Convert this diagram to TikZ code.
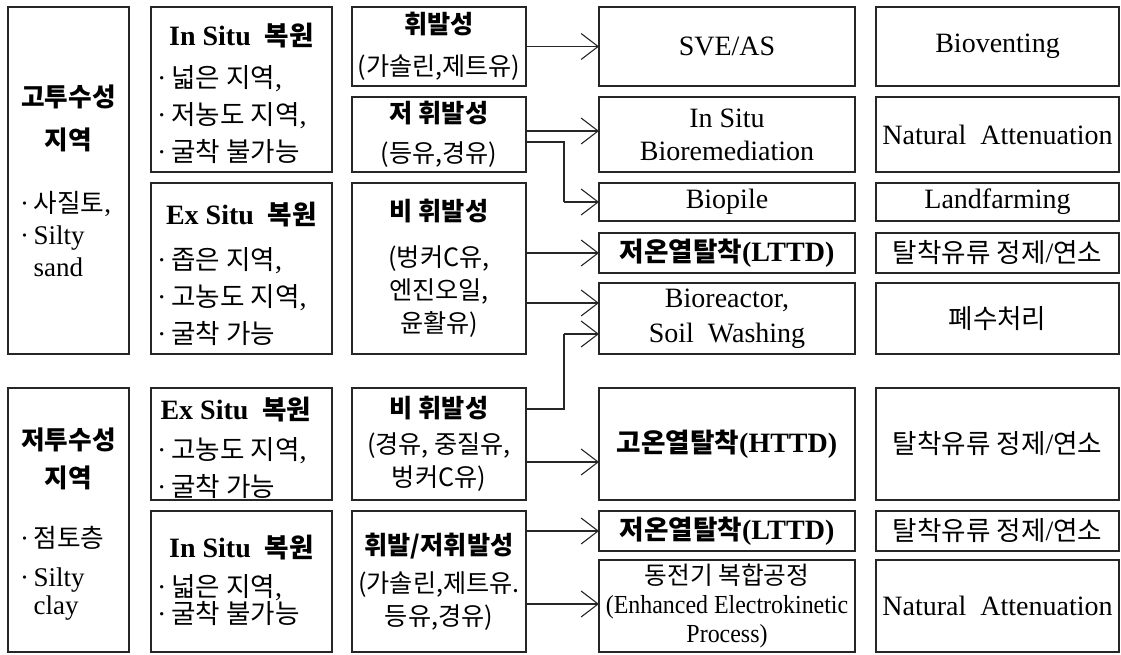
\documentclass[tikz,border=0pt]{standalone}
\usepackage{fontspec}
\setmainfont{Liberation Serif}
\newfontfamily\kr{Noto Sans CJK KR}[Scale=0.95]
\newfontfamily\cond{Liberation Serif}[FakeStretch=0.92]
\usetikzlibrary{arrows.meta}
\newcommand\K[1]{{\kr #1}}
\newcommand\KB[1]{{\kr\bfseries #1}}
\begin{document}
\begin{tikzpicture}[x=1pt,y=-1pt,
  box/.style={draw=black!85, line width=1.2pt, inner sep=0pt, outer sep=0pt, anchor=north west, align=center},
  txt/.style={inner sep=0pt, align=center},
  ltxt/.style={inner sep=0pt, align=left, anchor=west},
  mid/.style={font=\fontsize{26.5}{33}\selectfont},
  arr/.style={line width=1.1pt, black!85, -{Straight Barb[length=17pt,width=26pt,line width=1.1pt]}},
  font=\fontsize{28}{34}\selectfont]
\useasboundingbox (0,0) rectangle (1121,655);
% column 1
\node[box, minimum width=121pt, minimum height=347pt] (A1) at (8,7) {};
\node[box, minimum width=121pt, minimum height=264pt] (A2) at (8,388) {};
\node[txt, font=\fontsize{27}{43}\selectfont] (A1h) at (68.5,118.5) {\KB{고투수성}\\\KB{지역}};
\node[ltxt, font=\fontsize{27}{32}\selectfont] (A1b) at (20,234) {·\,\K{사질토},\\·\,Silty\\\phantom{·\,}sand};
\node[txt, font=\fontsize{27}{38}\selectfont] (A2h) at (68.5,459) {\KB{저투수성}\\\KB{지역}};
\node[ltxt, font=\fontsize{27}{32}\selectfont] (A2b) at (20,538) {·\,\K{점토층}};
\node[ltxt, font=\fontsize{27}{28}\selectfont] (A2c) at (20,594) {·\,Silty\\\phantom{·\,}clay};
% column 2
\node[box, minimum width=181pt, minimum height=165pt] (B1) at (151,7) {};
\node[box, minimum width=181pt, minimum height=171pt] (B2) at (151,183) {};
\node[box, minimum width=181pt, minimum height=112pt] (B3) at (151,388) {};
\node[box, minimum width=181pt, minimum height=141pt] (B4) at (151,511) {};
\node[txt, font=\fontsize{28}{30}\bfseries\selectfont] (B1h) at (241.5,36) {In Situ\ \ \KB{복원}};
\node[ltxt, font=\fontsize{28}{37}\selectfont] (B1b) at (157,115) {·\,\K{넓은 지역},\\·\,\K{저농도 지역},\\·\,\K{굴착 불가능}};
\node[txt, font=\fontsize{28}{30}\bfseries\selectfont] (B2h) at (241.5,215) {Ex Situ\ \ \KB{복원}};
\node[ltxt, font=\fontsize{28}{37}\selectfont] (B2b) at (157,297) {·\,\K{좁은 지역},\\·\,\K{고농도 지역},\\·\,\K{굴착 가능}};
\node[txt, font=\fontsize{28}{30}\bfseries\selectfont] (B3h) at (236,410) {Ex Situ\ \ \KB{복원}};
\node[ltxt, font=\fontsize{28}{37}\selectfont] (B3b) at (157,468) {·\,\K{고농도 지역},\\·\,\K{굴착 가능}};
\node[txt, font=\fontsize{28}{30}\bfseries\selectfont] (B4h) at (241.5,548) {In Situ\ \ \KB{복원}};
\node[ltxt, font=\fontsize{28}{25}\selectfont] (B4b) at (157,600) {·\,\K{넓은 지역},\\·\,\K{굴착 불가능}};
% column 3
\node[box, mid, minimum width=174pt, minimum height=79pt] (C1) at (352,7) {\KB{휘발성}\\[9pt]\K{(가솔린,제트유)}};
\node[box, mid, minimum width=174pt, minimum height=75pt] (C2) at (352,97) {\KB{저 휘발성}\\[7pt]\K{(등유,경유)}};
\node[box, mid, minimum width=174pt, minimum height=171pt] (C3) at (352,183) {\KB{비 휘발성}\\[13pt]\K{(벙커C유,}\\\K{엔진오일,}\\\K{윤활유)}};
\node[box, mid, minimum width=174pt, minimum height=112pt] (C4) at (352,388) {\KB{비 휘발성}\\[3pt]\K{(경유, 중질유,}\\\K{벙커C유)}};
\node[box, mid, minimum width=174pt, minimum height=141pt] (C5) at (352,511) {\KB{휘발/저휘발성}\\[5pt]\K{(가솔린,제트유.}\\\K{등유,경유)}};
% column 4
\node[box, minimum width=256pt, minimum height=79pt] (D1) at (599,7) {SVE/AS};
\node[box, minimum width=256pt, minimum height=75pt] (D2) at (599,97) {In Situ\\[-1pt]Bioremediation};
\node[box, minimum width=256pt, minimum height=38pt] (D3) at (599,183) {Biopile};
\node[box, minimum width=256pt, minimum height=40pt] (D4) at (599,233) {\bfseries\KB{저온열탈착}(LTTD)};
\node[box, minimum width=256pt, minimum height=71pt] (D5) at (599,283) {Bioreactor,\\[1pt]Soil\ \ Washing};
\node[box, minimum width=256pt, minimum height=112pt] (D6) at (599,388) {\bfseries\KB{고온열탈착}(HTTD)};
\node[box, minimum width=256pt, minimum height=40pt] (D7) at (599,511) {\bfseries\KB{저온열탈착}(LTTD)};
\node[box, minimum width=256pt, minimum height=92pt, font=\fontsize{26}{29}\selectfont] (D8) at (599,560) {\K{동전기\ 복합공정}\\{\cond (Enhanced Electrokinetic}\\{\cond Process)}};
% column 5
\node[box, minimum width=243pt, minimum height=79pt] (E1) at (876,7) {Bioventing};
\node[box, minimum width=243pt, minimum height=75pt] (E2) at (876,97) {Natural\ \ Attenuation};
\node[box, minimum width=243pt, minimum height=38pt] (E3) at (876,183) {Landfarming};
\node[box, minimum width=243pt, minimum height=40pt] (E4) at (876,233) {\K{탈착유류 정제}/\K{연소}};
\node[box, minimum width=243pt, minimum height=71pt] (E5) at (876,283) {\K{폐수처리}};
\node[box, minimum width=243pt, minimum height=112pt] (E6) at (876,388) {\K{탈착유류 정제}/\K{연소}};
\node[box, minimum width=243pt, minimum height=40pt] (E7) at (876,511) {\K{탈착유류 정제}/\K{연소}};
\node[box, minimum width=243pt, minimum height=92pt] (E8) at (876,560) {Natural\ \ Attenuation};
% connectors
\coordinate (j1) at (564,0);
\draw[arr] (C1.east) -- (D1.west);
\draw[arr] (C2.east |- 0,131) -- (D2.west |- 0,131);
\draw[arr, -] (C2.east |- 0,142) -| (j1 |- D3.west);
\draw[arr] (j1 |- D3.west) -- (D3.west);
\draw[arr] (C3.east |- D4.west) -- (D4.west);
\draw[arr] (C3.east |- 0,303) -- (D5.west |- 0,303);
\draw[arr, -] (C4.east |- 0,409) -| (j1 |- 0,334);
\draw[arr] (j1 |- 0,334) -- (D5.west |- 0,334);
\draw[arr] (C4.east |- 0,462) -- (D6.west |- 0,462);
\draw[arr] (C5.east |- D7.west) -- (D7.west);
\draw[arr] (C5.east |- 0,604) -- (D8.west |- 0,604);
\end{tikzpicture}
\end{document}
